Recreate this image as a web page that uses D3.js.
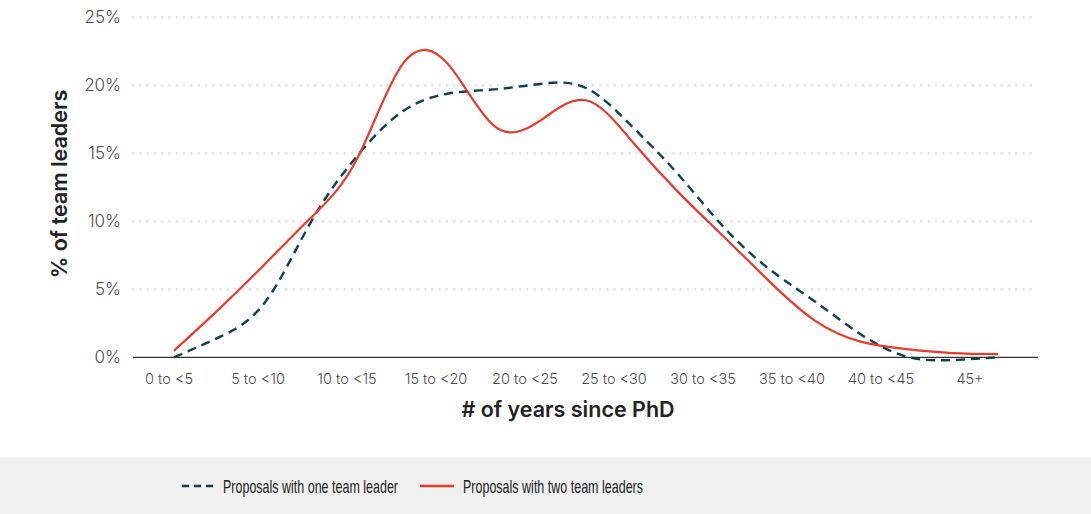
<!DOCTYPE html>
<html>
<head>
<meta charset="utf-8">
<script src="https://cdn.jsdelivr.net/npm/d3@7"></script>
<style>
  body { margin: 0; background: #fff; }
  svg { display: block; }
</style>
</head>
<body>
<svg id="chart" width="1091" height="514"></svg>
<script>
// categories shown on the x axis
const categories = ['0 to <5', '5 to <10', '10 to <15', '15 to <20', '20 to <25',
  '25 to <30', '30 to <35', '35 to <40', '40 to <45', '45+'];
// sample positions along the curves, in years since PhD
const years = [0, 2.5, 5, 7.5, 10, 12.5, 15, 17.5, 20, 22.5, 25, 27.5, 30, 32.5, 35, 37.5, 40, 42.5, 45];
// % of team leaders
const oneLeader = [0, 1.5, 4.1, 10.0, 14.8, 18.1, 19.4, 19.7, 20.1, 19.8, 17.0, 13.5, 9.6, 6.5, 4.1, 1.7, 0.05, -0.2, 0];
const twoLeaders = [0.49, 3.6, 6.9, 10.3, 14.6, 21.6, 21.5, 17.0, 17.4, 18.9, 15.9, 12.2, 8.9, 5.6, 2.7, 1.15, 0.6, 0.31, 0.24];
const yTicks = [0, 5, 10, 15, 20, 25];
const legendItems = ['Proposals with one team leader', 'Proposals with two team leaders'];

const svg = d3.select('#chart');
const red = '#e8392b';
const teal = '#0b4250';
const font = 'Inter, "Noto Sans", sans-serif';

const x = d3.scaleLinear().domain([0, 45]).range([174, 998]);
const xLabel = d3.scalePoint().domain(categories).range([169, 970]);
const y = d3.scaleLinear().domain([0, 25]).range([357.3, 17.3]);

// dotted grid
svg.append('g').selectAll('line')
  .data(yTicks.filter(d => d > 0))
  .enter().append('line')
  .attr('x1', 133).attr('x2', 1036)
  .attr('y1', d => y(d)).attr('y2', d => y(d))
  .attr('stroke', '#e6e6e6')
  .attr('stroke-width', 3)
  .attr('stroke-linecap', 'round')
  .attr('stroke-dasharray', '0,7.3');

// baseline
svg.append('line')
  .attr('x1', 133).attr('x2', 1038)
  .attr('y1', y(0)).attr('y2', y(0))
  .attr('stroke', '#333').attr('stroke-width', 1.2);

// y tick labels
svg.append('g').selectAll('text')
  .data(yTicks)
  .enter().append('text')
  .text(d => d + '%')
  .attr('x', 121)
  .attr('y', d => y(d))
  .attr('dy', '0.36em')
  .style('font-family', font)
  .style('font-size', '17px')
  .style('font-weight', 300)
  .style('fill', '#4a4a4a')
  .style('text-anchor', 'end');

// x tick labels
svg.append('g').selectAll('text')
  .data(categories)
  .enter().append('text')
  .text(d => d)
  .attr('x', d => xLabel(d))
  .attr('y', 384)
  .style('font-family', font)
  .style('font-size', '14.5px')
  .style('font-weight', 300)
  .style('fill', '#4a4a4a')
  .style('text-anchor', 'middle');

// axis titles
svg.append('text')
  .text('# of years since PhD')
  .attr('x', 568).attr('y', 417)
  .style('font-family', font)
  .style('font-size', '21.5px')
  .style('font-weight', 600)
  .style('fill', '#222')
  .style('text-anchor', 'middle');

svg.append('text')
  .text('% of team leaders')
  .attr('transform', 'translate(67,184) rotate(-90)')
  .style('font-family', font)
  .style('font-size', '21.5px')
  .style('font-weight', 600)
  .style('fill', '#222')
  .style('text-anchor', 'middle');

// lines
const line = d3.line()
  .x((d, i) => x(years[i]))
  .y(d => y(d))
  .curve(d3.curveNatural);

svg.append('path')
  .attr('d', line(oneLeader))
  .attr('fill', 'none')
  .attr('stroke', teal)
  .attr('stroke-width', 2.4)
  .attr('stroke-dasharray', '9,6');

svg.append('path')
  .attr('d', line(twoLeaders))
  .attr('fill', 'none')
  .attr('stroke', red)
  .attr('stroke-width', 2.2);

// legend band
svg.append('rect')
  .attr('x', 0).attr('y', 457.5)
  .attr('width', 1091).attr('height', 57)
  .attr('fill', '#f0f0f0');

const legendFont = '"Liberation Sans", Arial, sans-serif';
const legendX = [182, 420];
const legendTextLen = [175, 180];
const legend = svg.append('g').selectAll('g')
  .data(legendItems)
  .enter().append('g')
  .attr('transform', (d, i) => `translate(${legendX[i]},486)`);

legend.append('line')
  .attr('x1', 0).attr('x2', (d, i) => i === 0 ? 32 : 34)
  .attr('stroke', (d, i) => i === 0 ? teal : red)
  .attr('stroke-width', 2.4)
  .attr('stroke-dasharray', (d, i) => i === 0 ? '7,5' : null);

legend.append('text')
  .text(d => d)
  .attr('x', (d, i) => i === 0 ? 41 : 43)
  .attr('y', 6.5)
  .attr('textLength', (d, i) => legendTextLen[i])
  .attr('lengthAdjust', 'spacingAndGlyphs')
  .style('font-family', legendFont)
  .style('font-size', '19px')
  .style('fill', '#222');
</script>
</body>
</html>
